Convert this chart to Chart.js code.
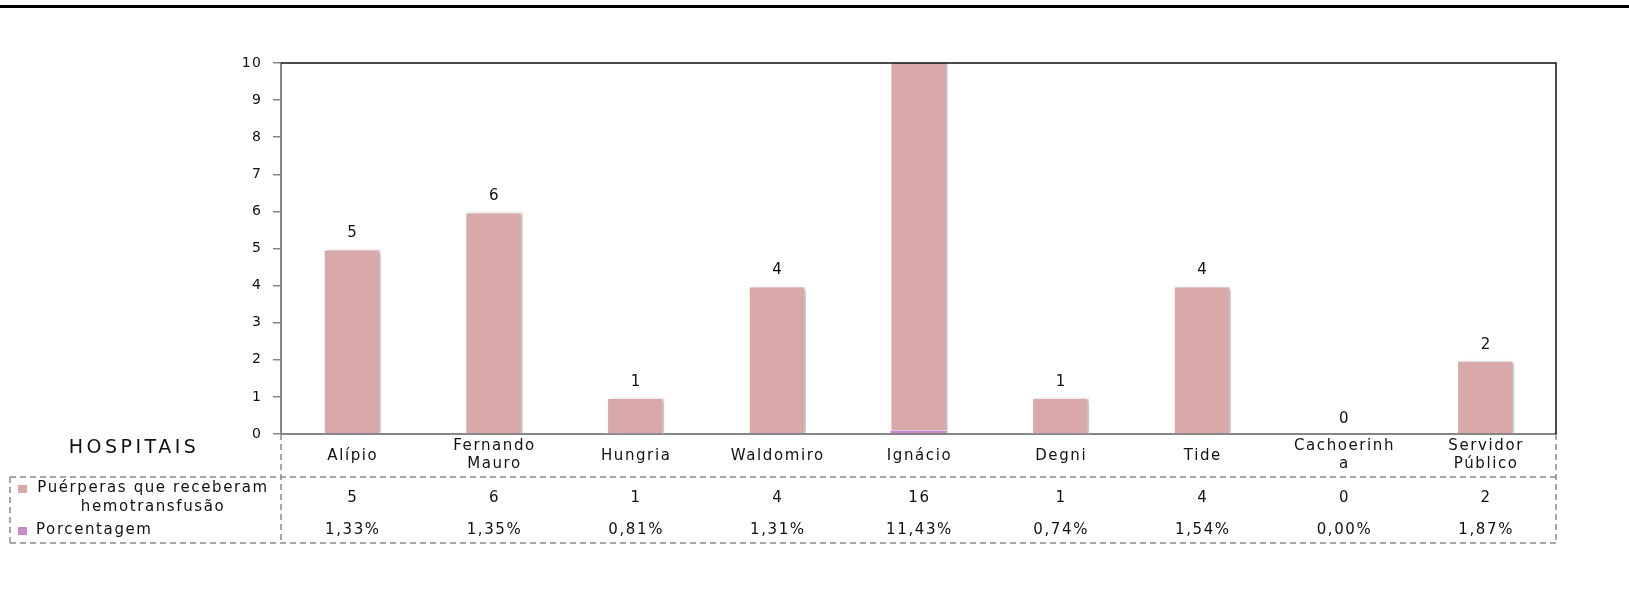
<!DOCTYPE html>
<html>
<head>
<meta charset="utf-8">
<script src="https://cdn.jsdelivr.net/npm/chart.js@4.4.1/dist/chart.umd.min.js"></script>
<style>
  html, body { margin: 0; padding: 0; background: #fff; }
  #wrap { width: 1629px; height: 593px; }
</style>
</head>
<body>
<div id="wrap"><canvas id="grafico"></canvas></div>
<script>
// dados
const hospitais = [["Alípio"], ["Fernando", "Mauro"], ["Hungria"], ["Waldomiro"], ["Ignácio"], ["Degni"], ["Tide"], ["Cachoerinh", "a"], ["Servidor", "Público"]];
const puerperas = [5, 6, 1, 4, 16, 1, 4, 0, 2];
const porcentagem = [1.33, 1.35, 0.81, 1.31, 11.43, 0.74, 1.54, 0.00, 1.87];
const yTicks = [0, 1, 2, 3, 4, 5, 6, 7, 8, 9, 10];

const serieNomes = [["Puérperas que receberam", "hemotransfusão"], ["Porcentagem"]];
const ROSA = '#d9a9a9', LILAS = '#c98bc9';
const FONTE = '"DejaVu Sans", sans-serif';

function fmtPct(v) { return v.toFixed(2).replace('.', ',') + '%'; }

// espaçamento de letras parecido com o do Excel
const espaco = {
  id: 'espaco',
  beforeDraw(c) { c.ctx.letterSpacing = '1.2px'; }
};

const sombra = {
  id: 'sombra',
  beforeDatasetsDraw(c) {
    const ctx = c.ctx;
    ctx.save();
    ctx.shadowColor = 'rgba(0,0,0,0.28)';
    ctx.shadowBlur = 4;
    ctx.shadowOffsetX = 3;
    ctx.shadowOffsetY = 1;
  },
  afterDatasetsDraw(c) { c.ctx.restore(); }
};

const rotulos = {
  id: 'rotulos',
  afterDatasetsDraw(c) {
    const ctx = c.ctx, meta = c.getDatasetMeta(1);
    const max = c.scales.y.max;
    ctx.save();
    ctx.fillStyle = '#111';
    ctx.font = '15px ' + FONTE;
    ctx.letterSpacing = '1.5px';
    ctx.textAlign = 'center';
    ctx.textBaseline = 'middle';
    meta.data.forEach((bar, i) => {
      if (puerperas[i] > max) return;
      ctx.fillText(String(puerperas[i]), bar.x + 1, bar.y - 15);
    });
    ctx.restore();
  }
};

const tabela = {
  id: 'tabela',
  afterDraw(c) {
    const ctx = c.ctx, a = c.chartArea, x = c.scales.x;
    const b = a.bottom;
    ctx.save();
    // linha preta no topo
    ctx.fillStyle = '#000';
    ctx.fillRect(0, 5, c.width, 3);
    // moldura superior e direita
    ctx.strokeStyle = '#111';
    ctx.lineWidth = 1.5;
    ctx.beginPath();
    ctx.moveTo(a.left, a.top); ctx.lineTo(a.right, a.top); ctx.lineTo(a.right, b);
    ctx.stroke();

    // linhas tracejadas da tabela
    const esq = 10, linha1 = b + 43, fundo = b + 109;
    ctx.strokeStyle = '#8a8a8a';
    ctx.lineWidth = 1.5;
    ctx.setLineDash([6, 4]);
    ctx.beginPath();
    ctx.moveTo(esq, linha1); ctx.lineTo(a.right, linha1);
    ctx.moveTo(esq, fundo); ctx.lineTo(a.right, fundo);
    ctx.moveTo(esq, linha1); ctx.lineTo(esq, fundo);
    ctx.moveTo(a.left, b); ctx.lineTo(a.left, fundo);
    ctx.moveTo(a.right, b); ctx.lineTo(a.right, fundo);
    ctx.stroke();
    ctx.setLineDash([]);

    ctx.fillStyle = '#111';
    ctx.textAlign = 'center';
    ctx.textBaseline = 'middle';

    ctx.font = '19px ' + FONTE;
    ctx.letterSpacing = '3.5px';
    ctx.fillText('HOSPITAIS', 134, b + 14);

    ctx.font = '15px ' + FONTE;
    ctx.letterSpacing = '1.6px';
    hospitais.forEach((nome, i) => {
      const cx = x.getPixelForValue(i) + 1;
      if (nome.length === 1) ctx.fillText(nome[0], cx, b + 22);
      else { ctx.fillText(nome[0], cx, b + 12); ctx.fillText(nome[1], cx, b + 30); }
      ctx.fillText(String(puerperas[i]), cx, b + 64);
      ctx.fillText(fmtPct(porcentagem[i]), cx, b + 96);
    });

    // nomes das séries com marcadores
    ctx.fillText(serieNomes[0][0], 153, b + 54);
    ctx.fillText(serieNomes[0][1], 153, b + 73);
    ctx.textAlign = 'left';
    ctx.fillText(serieNomes[1][0], 36, b + 96);
    ctx.fillStyle = ROSA;
    ctx.fillRect(18, b + 51, 9, 8);
    ctx.fillStyle = LILAS;
    ctx.fillRect(18, b + 93, 9, 8);
    ctx.restore();
  }
};

new Chart(document.getElementById('grafico'), {
  type: 'bar',
  data: {
    labels: hospitais,
    datasets: [
      { label: 'Porcentagem', data: porcentagem.map(v => v / 100), backgroundColor: LILAS,
        borderColor: '#fff', borderWidth: 1, barPercentage: 0.41, categoryPercentage: 1, order: 0 },
      { label: 'Puérperas que receberam hemotransfusão', data: puerperas, backgroundColor: ROSA,
        borderColor: '#fff', borderWidth: 2, barPercentage: 0.41, categoryPercentage: 1, order: 1 }
    ]
  },
  options: {
    responsive: true,
    maintainAspectRatio: false,
    animation: false,
    layout: { padding: { top: 63, right: 73, left: 0, bottom: 0 } },
    plugins: { legend: { display: false }, tooltip: { enabled: false } },
    scales: {
      x: {
        stacked: true,
        ticks: { display: false },
        grid: { display: false },
        border: { color: '#868686', width: 2 },
        afterFit(s) { s.height = 593 - 434; }
      },
      y: {
        stacked: false,
        min: 0, max: 10,
        afterBuildTicks(s) { s.ticks = yTicks.map(v => ({ value: v })); },
        ticks: { color: '#111', padding: 11, font: { size: 14, family: FONTE } },
        grid: { drawOnChartArea: false, drawTicks: true, tickLength: 8, color: '#868686', lineWidth: 1.5 },
        border: { color: '#868686', width: 2 },
        afterFit(s) { s.width = 281; }
      }
    }
  },
  plugins: [espaco, sombra, rotulos, tabela]
});
</script>
</body>
</html>
